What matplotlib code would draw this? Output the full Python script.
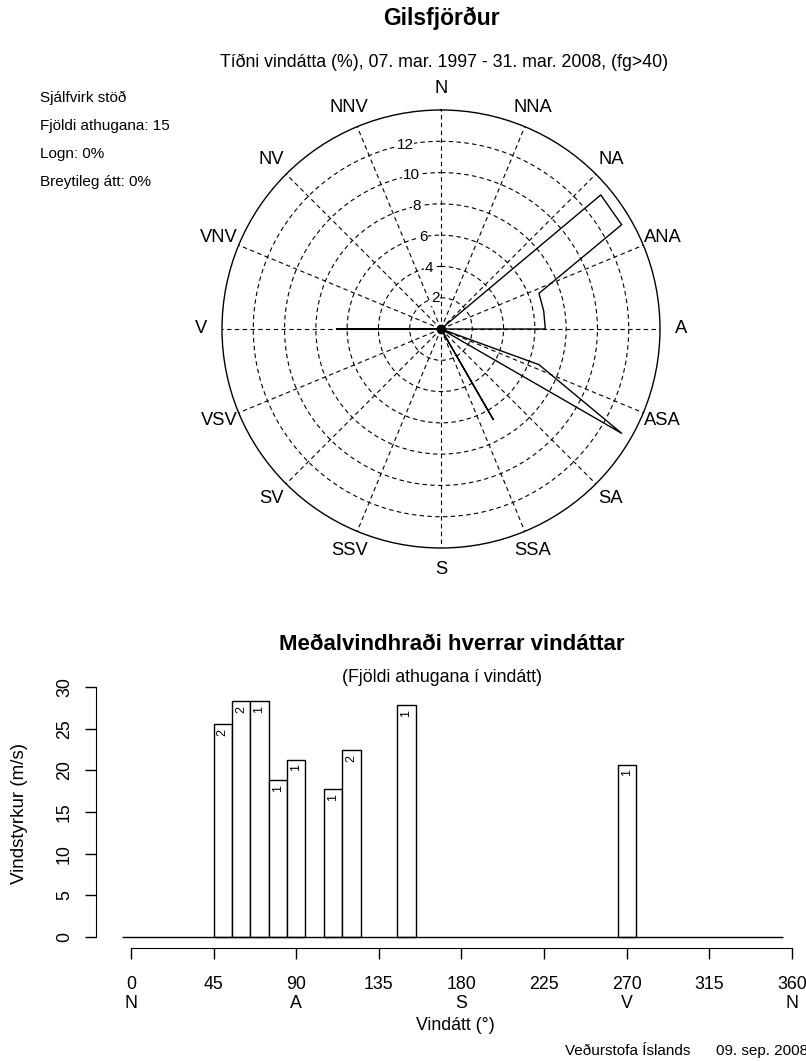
import numpy as np
import matplotlib
matplotlib.use("Agg")
import matplotlib.pyplot as plt
from matplotlib.transforms import blended_transform_factory

plt.rcParams['font.family'] = ['Liberation Sans', 'DejaVu Sans']

# ---- data -------------------------------------------------------------
station = "Gilsfjörður"
period = "Tíðni vindátta (%), 07. mar. 1997 - 31. mar. 2008, (fg>40)"
info_lines = ["Sjálfvirk stöð", "Fjöldi athugana: 15", "Logn: 0%", "Breytileg átt: 0%"]
n_obs = 15

# 10-degree direction bins
bin_centers = np.arange(0, 360, 10)
obs_dirs = [50, 60, 70, 80, 90, 110, 120, 150, 270]
obs_counts = [2, 2, 1, 1, 1, 1, 2, 1, 1]
mean_speed = [25.6, 28.3, 28.3, 18.8, 21.3, 17.8, 22.4, 27.8, 20.7]

compass = ['N', 'NNA', 'NA', 'ANA', 'A', 'ASA', 'SA', 'SSA',
           'S', 'SSV', 'SV', 'VSV', 'V', 'VNV', 'NV', 'NNV']
ring_values = [2, 4, 6, 8, 10, 12]
r_max = 14

x_ticks = [0, 45, 90, 135, 180, 225, 270, 315, 360]
x_tick_letters = {0: 'N', 90: 'A', 180: 'S', 270: 'V', 360: 'N'}
y_ticks = [0, 5, 10, 15, 20, 25, 30]

# frequency of each bin in percent of all observations
counts_all = np.zeros(len(bin_centers))
for d, c in zip(obs_dirs, obs_counts):
    counts_all[bin_centers == d] = c
freq = counts_all / n_obs * 100

W, H = 806, 1061
fig = plt.figure(figsize=(W / 100, H / 100), dpi=100)


def fx(px):
    return px / W


def fy(py):
    return 1 - py / H


# ---- titles -----------------------------------------------------------
fig.text(fx(441), fy(18), station, ha='center', va='center',
         fontsize=16.5, fontweight='bold')
fig.text(fx(444), fy(62), period, ha='center', va='center', fontsize=12.8)
for i, line in enumerate(info_lines):
    fig.text(fx(40), fy(98 + i * 28), line, ha='left', va='center', fontsize=11)

# ---- wind rose --------------------------------------------------------
cx, cy, rad = 441, 329, 219
pax = fig.add_axes([fx(cx - rad), fy(cy + rad), fx(2 * rad), (2 * rad) / H],
                   projection='polar')
pax.set_theta_zero_location('N')
pax.set_theta_direction(-1)
pax.set_ylim(0, r_max)
pax.set_rgrids(ring_values, labels=[''] * len(ring_values))
pax.set_thetagrids(np.arange(0, 360, 22.5), labels=[''] * 16)
pax.grid(True, color='black', linestyle=(0, (4, 3)), linewidth=0.8)
pax.spines['polar'].set_linewidth(1.0)
pax.spines['polar'].set_color('black')
pax.tick_params(length=0)

for k, name in enumerate(compass):
    pax.text(np.deg2rad(k * 22.5), 15.35, name, ha='center', va='center',
             fontsize=13.2, clip_on=False)
for r in ring_values:
    pax.text(np.deg2rad(-11), r, str(r), ha='center', va='center',
             fontsize=11, clip_on=False,
             bbox=dict(facecolor='white', edgecolor='none', pad=0.3))

theta = np.deg2rad(np.append(bin_centers, bin_centers[0]))
rr = np.append(freq, freq[0])
pax.plot(theta, rr, color='black', linewidth=1.0)
pax.plot([0], [0], 'o', color='black', markersize=6)

# ---- mean speed per direction -----------------------------------------
x0_px, x360_px = 131, 792
y0_px, y30_px = 937, 687
left_px, right_px, bottom_px, top_px = 96, 800, 948, 680
sx = (x360_px - x0_px) / 360
sy = (y0_px - y30_px) / 30
bax = fig.add_axes([fx(left_px), fy(bottom_px), fx(right_px - left_px),
                    (bottom_px - top_px) / H])
bax.set_xlim((left_px - x0_px) / sx, (right_px - x0_px) / sx)
bax.set_ylim((y0_px - bottom_px) / sy, (y0_px - top_px) / sy)

bax.bar(obs_dirs, mean_speed, width=10, facecolor='white',
        edgecolor='black', linewidth=1.0)
bax.hlines(0, bin_centers[0] - 5, bin_centers[-1] + 5, color='black',
           linewidth=1.0)
for d, v, c in zip(obs_dirs, mean_speed, obs_counts):
    bax.annotate(str(c), xy=(d, v), xytext=(0, -3.5), textcoords='offset points',
                 rotation=90, ha='center', va='top', fontsize=9)

for s in ['top', 'right']:
    bax.spines[s].set_visible(False)
bax.spines['left'].set_bounds(0, 30)
bax.spines['bottom'].set_bounds(0, 360)
bax.set_xticks(x_ticks)
bax.set_xticklabels([str(t) for t in x_ticks], fontsize=12.8)
bax.set_yticks(y_ticks)
bax.set_yticklabels([str(t) for t in y_ticks], fontsize=12.8, rotation=90,
                    va='center')
bax.tick_params(axis='both', length=8, width=1.0, color='black')
bax.tick_params(axis='x', pad=12.5)
bax.tick_params(axis='y', pad=8.5)

tr = blended_transform_factory(bax.transData, fig.transFigure)
for t, letter in x_tick_letters.items():
    bax.text(t, fy(1004), letter, transform=tr, ha='center', va='center',
             fontsize=12.8)

fig.text(fx(452), fy(645), "Meðalvindhraði hverrar vindáttar", ha='center',
         va='center', fontsize=16, fontweight='bold')
fig.text(fx(442), fy(677), "(Fjöldi athugana í vindátt)", ha='center',
         va='center', fontsize=12.8)
fig.text(fx(455), fy(1025), "Vindátt (°)", ha='center', va='center',
         fontsize=12.8)
fig.text(fx(20), fy(813), "Vindstyrkur (m/s)", ha='center', va='center',
         rotation=90, fontsize=13.5)
fig.text(fx(565), fy(1051), "Veðurstofa Íslands", ha='left', va='center',
         fontsize=11)
fig.text(fx(716), fy(1051), "09. sep. 2008", ha='left', va='center',
         fontsize=11)

fig.savefig("out.png", dpi=100)
